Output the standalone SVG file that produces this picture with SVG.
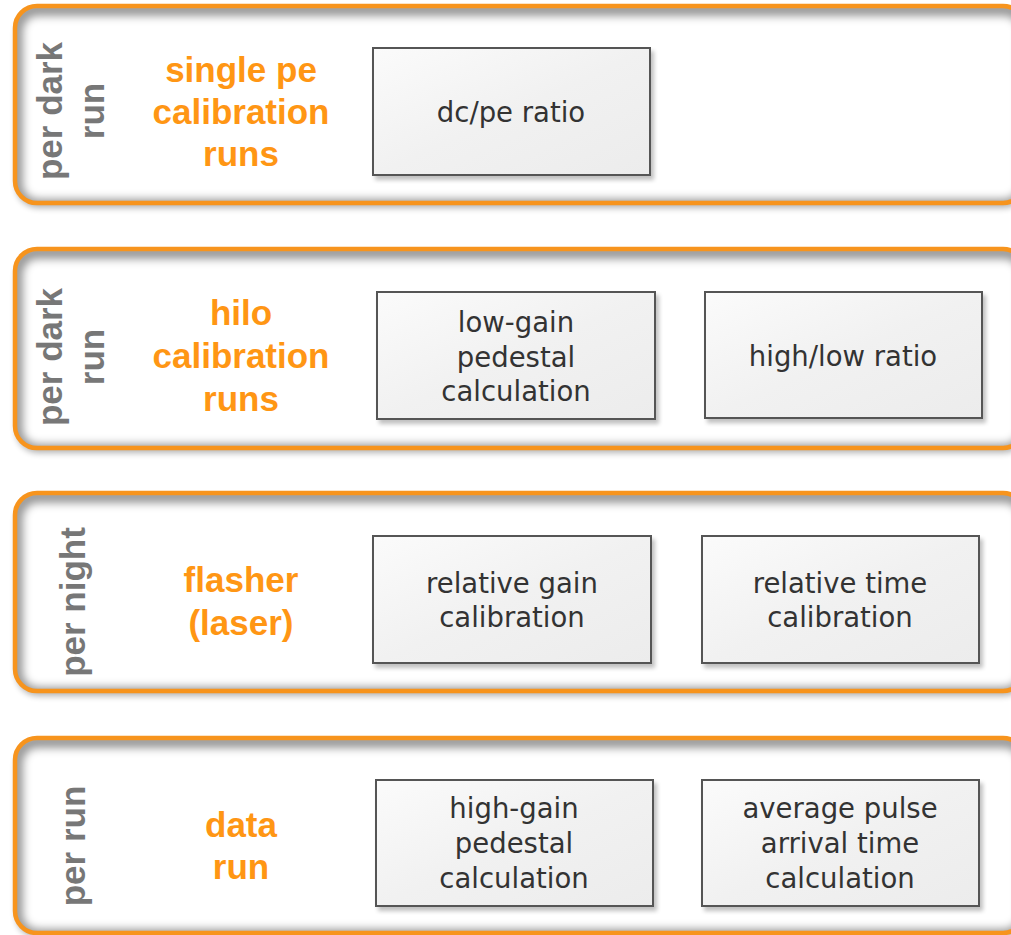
<svg xmlns="http://www.w3.org/2000/svg" width="1011" height="935" viewBox="0 0 1011 935">
<defs>
  <linearGradient id="boxfill" x1="0" y1="0" x2="1" y2="1">
    <stop offset="0" stop-color="#fbfbfb"/>
    <stop offset="0.5" stop-color="#f1f1f1"/>
    <stop offset="1" stop-color="#ececec"/>
  </linearGradient>
  <filter id="blur" x="-10%" y="-20%" width="120%" height="140%">
    <feGaussianBlur stdDeviation="4"/>
  </filter>
  <filter id="outer" x="-5%" y="-10%" width="110%" height="130%">
    <feGaussianBlur in="SourceAlpha" stdDeviation="3"/>
    <feOffset dx="1" dy="5" result="b"/>
    <feComponentTransfer in="b" result="s"><feFuncA type="linear" slope="0.3"/></feComponentTransfer>
    <feMerge><feMergeNode in="s"/><feMergeNode in="SourceGraphic"/></feMerge>
  </filter>
  <filter id="boxsh" x="-5%" y="-5%" width="115%" height="120%">
    <feGaussianBlur in="SourceAlpha" stdDeviation="2"/>
    <feOffset dx="3" dy="4" result="b"/>
    <feComponentTransfer in="b" result="s"><feFuncA type="linear" slope="0.25"/></feComponentTransfer>
    <feMerge><feMergeNode in="s"/><feMergeNode in="SourceGraphic"/></feMerge>
  </filter>
  <clipPath id="c1"><rect x="15" y="6" width="1010" height="197" rx="22"/></clipPath>
  <clipPath id="c2"><rect x="15" y="249" width="1010" height="199" rx="22"/></clipPath>
  <clipPath id="c3"><rect x="15" y="493" width="1010" height="198" rx="22"/></clipPath>
  <clipPath id="c4"><rect x="15" y="738" width="1010" height="195" rx="22"/></clipPath>
</defs>
<style>
  .frame-bg { fill: #ffffff; }
  .ishadow { fill: none; stroke: #000000; stroke-opacity: 0.4; stroke-width: 14; }
  .frame { fill: none; stroke: #F7941D; stroke-width: 4.5; }
  .side { font-family: "Liberation Sans", Arial, sans-serif; font-weight: bold; font-size: 35px; fill: #777777; text-anchor: middle; }
  .title { font-family: "Liberation Sans", Arial, sans-serif; font-weight: bold; font-size: 35px; fill: #FF9614; text-anchor: middle; }
  .box { fill: url(#boxfill); stroke: #555555; stroke-width: 2; }
  .btxt { font-family: "DejaVu Sans", Verdana, sans-serif; font-size: 27.5px; fill: #333333; text-anchor: middle; }
</style>
<rect width="1011" height="935" fill="#ffffff"/>

<g id="panel-single-pe">
  <rect class="frame-bg" filter="url(#outer)" x="15" y="6" width="1010" height="197" rx="22"/>
  <g clip-path="url(#c1)"><rect class="ishadow" filter="url(#blur)" x="16" y="9" width="1010" height="197" rx="22"/></g>
  <rect class="frame" x="15" y="6" width="1010" height="197" rx="22"/>
  <text class="side" transform="translate(62,111) rotate(-90)">per dark</text>
  <text class="side" transform="translate(104,111) rotate(-90)">run</text>
  <text class="title" x="241" y="82">single pe</text>
  <text class="title" x="241" y="124">calibration</text>
  <text class="title" x="241" y="166">runs</text>
</g>
<g id="node-dcpe">
  <rect class="box" filter="url(#boxsh)" x="373" y="48" width="277" height="127"/>
  <text class="btxt" x="511" y="122">dc/pe ratio</text>
</g>

<g id="panel-hilo">
  <rect class="frame-bg" filter="url(#outer)" x="15" y="249" width="1010" height="199" rx="22"/>
  <g clip-path="url(#c2)"><rect class="ishadow" filter="url(#blur)" x="16" y="252" width="1010" height="199" rx="22"/></g>
  <rect class="frame" x="15" y="249" width="1010" height="199" rx="22"/>
  <text class="side" transform="translate(62,357) rotate(-90)">per dark</text>
  <text class="side" transform="translate(104,357) rotate(-90)">run</text>
  <text class="title" x="241" y="325">hilo</text>
  <text class="title" x="241" y="368">calibration</text>
  <text class="title" x="241" y="411">runs</text>
</g>
<g id="node-lowgain-ped">
  <rect class="box" filter="url(#boxsh)" x="377" y="292" width="278" height="127"/>
  <text class="btxt" x="516" y="332">low-gain</text>
  <text class="btxt" x="516" y="367">pedestal</text>
  <text class="btxt" x="516" y="401">calculation</text>
</g>
<g id="node-highlow">
  <rect class="box" filter="url(#boxsh)" x="705" y="292" width="277" height="126"/>
  <text class="btxt" x="843" y="366">high/low ratio</text>
</g>

<g id="panel-flasher">
  <rect class="frame-bg" filter="url(#outer)" x="15" y="493" width="1010" height="198" rx="22"/>
  <g clip-path="url(#c3)"><rect class="ishadow" filter="url(#blur)" x="16" y="496" width="1010" height="198" rx="22"/></g>
  <rect class="frame" x="15" y="493" width="1010" height="198" rx="22"/>
  <text class="side" transform="translate(85,602) rotate(-90)">per night</text>
  <text class="title" x="241" y="592">flasher</text>
  <text class="title" x="241" y="635">(laser)</text>
</g>
<g id="node-relgain">
  <rect class="box" filter="url(#boxsh)" x="373" y="536" width="278" height="127"/>
  <text class="btxt" x="512" y="593">relative gain</text>
  <text class="btxt" x="512" y="627">calibration</text>
</g>
<g id="node-reltime">
  <rect class="box" filter="url(#boxsh)" x="702" y="536" width="277" height="127"/>
  <text class="btxt" x="840" y="593">relative time</text>
  <text class="btxt" x="840" y="627">calibration</text>
</g>

<g id="panel-data">
  <rect class="frame-bg" filter="url(#outer)" x="15" y="738" width="1010" height="195" rx="22"/>
  <g clip-path="url(#c4)"><rect class="ishadow" filter="url(#blur)" x="16" y="741" width="1010" height="195" rx="22"/></g>
  <rect class="frame" x="15" y="738" width="1010" height="195" rx="22"/>
  <text class="side" transform="translate(85,846) rotate(-90)">per run</text>
  <text class="title" x="241" y="837">data</text>
  <text class="title" x="241" y="879">run</text>
</g>
<g id="node-highgain-ped">
  <rect class="box" filter="url(#boxsh)" x="376" y="780" width="277" height="126"/>
  <text class="btxt" x="514" y="818">high-gain</text>
  <text class="btxt" x="514" y="853">pedestal</text>
  <text class="btxt" x="514" y="888">calculation</text>
</g>
<g id="node-avg-pulse">
  <rect class="box" filter="url(#boxsh)" x="702" y="780" width="277" height="126"/>
  <text class="btxt" x="840" y="818">average pulse</text>
  <text class="btxt" x="840" y="853">arrival time</text>
  <text class="btxt" x="840" y="888">calculation</text>
</g>

<g id="connectors"/>
</svg>
